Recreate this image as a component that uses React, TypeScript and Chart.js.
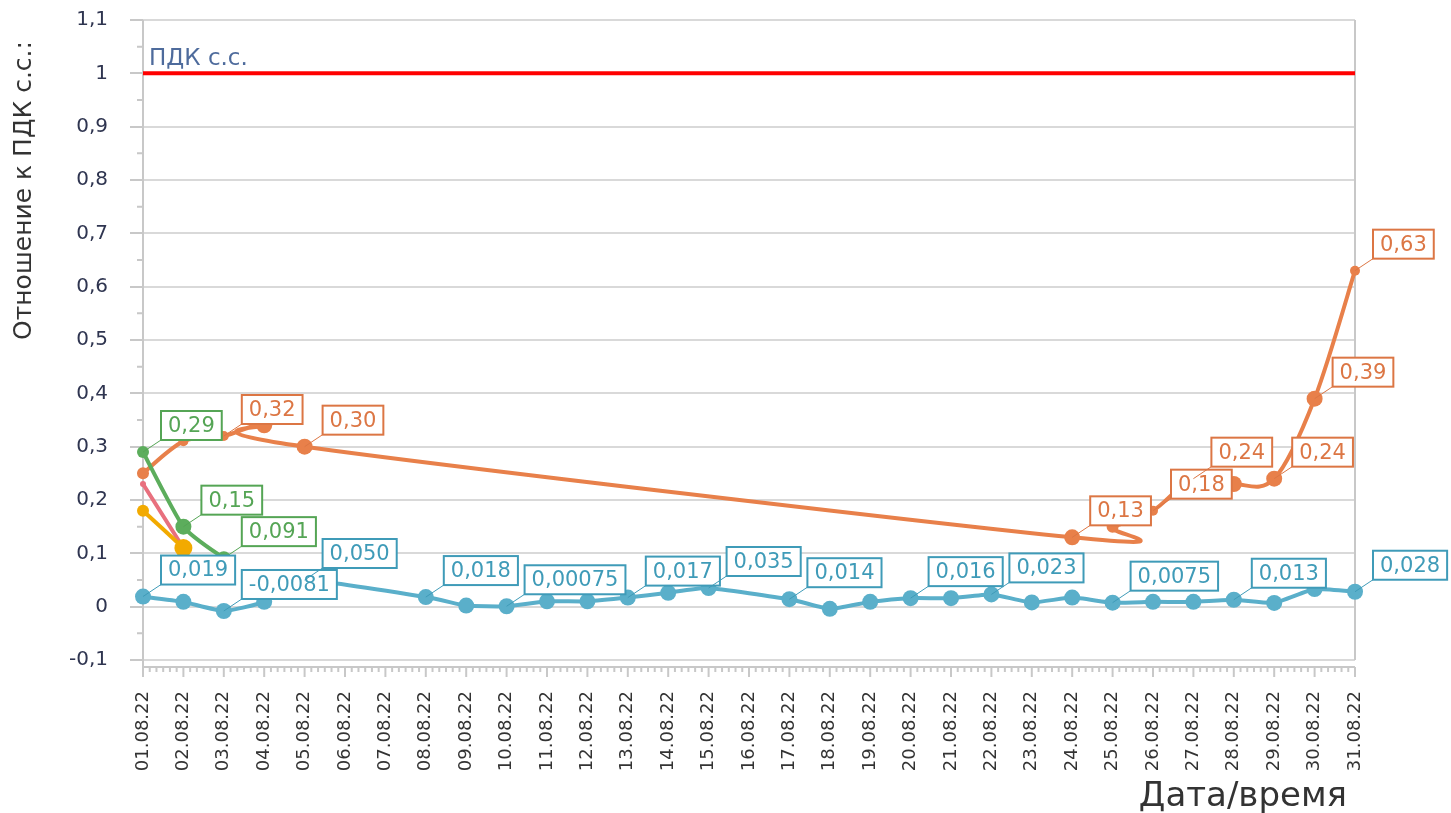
import React, { useEffect, useRef } from 'react';
import { Chart, registerables } from 'chart.js';

Chart.register(...registerables);

// ---------- data ----------
const xTickLabels = [
  '01.08.22', '02.08.22', '03.08.22', '04.08.22', '05.08.22', '06.08.22', '07.08.22', '08.08.22',
  '09.08.22', '10.08.22', '11.08.22', '12.08.22', '13.08.22', '14.08.22', '15.08.22', '16.08.22',
  '17.08.22', '18.08.22', '19.08.22', '20.08.22', '21.08.22', '22.08.22', '23.08.22', '24.08.22',
  '25.08.22', '26.08.22', '27.08.22', '28.08.22', '29.08.22', '30.08.22', '31.08.22',
];

const pdkLevel = 1;
const pdkDays = [1, 31];

const blueDays = [1, 2, 3, 4, 5, 8, 9, 10, 11, 12, 13, 14, 15, 17, 18, 19, 20, 21, 22, 23, 24, 25, 26, 27, 28, 29, 30, 31];
const blueValues = [0.019, 0.009, -0.0081, 0.009, 0.050, 0.018, 0.002, 0.00075, 0.010, 0.010, 0.017, 0.026, 0.035, 0.014, -0.004, 0.009, 0.016, 0.016, 0.023, 0.008, 0.017, 0.0075, 0.009, 0.009, 0.013, 0.007, 0.033, 0.028];
const blueLabelDays = [1, 3, 5, 8, 10, 13, 15, 17, 20, 22, 25, 28, 31];

const orangeDays = [1, 2, 3, 4, 5, 24, 25, 26, 27, 28, 29, 30, 31];
const orangeValues = [0.25, 0.31, 0.32, 0.34, 0.30, 0.13, 0.15, 0.18, 0.24, 0.23, 0.24, 0.39, 0.63];
const orangeLabelDays = [3, 5, 24, 26, 27, 29, 30, 31];

const greenDays = [1, 2, 3];
const greenValues = [0.29, 0.15, 0.091];
const greenLabelDays = [1, 2, 3];

const pinkDays = [1, 2];
const pinkValues = [0.23, 0.11];

const yellowDays = [1, 2];
const yellowValues = [0.18, 0.11];

// ---------- styles ----------
const orangeRadii = [6, 5, 5, 8, 8, 8, 6, 5, 6, 8, 8, 8, 5];
const greenRadii = [6, 8, 7];
const yellowRadii = [6, 9];
const pinkRadii = [3, 3];

const FONT = 'DejaVu Sans';

const toPoints = (days: number[], values: number[]) => days.map((d, i) => ({ x: d, y: values[i] }));

const fmtLabel = (v: number) => Number(v).toPrecision(2).replace('.', ',');
const fmtTick = (v: number) => {
  const r = Math.round(v);
  if (Math.abs(v - r) < 1e-9) return String(r);
  return v.toFixed(1).replace('.', ',');
};

// uniform Catmull-Rom control points (lets the curve overshoot like the original)
const crSplinePlugin = {
  id: 'crSpline',
  beforeDatasetDraw(chart: any, args: any) {
    const ds: any = chart.data.datasets[args.index];
    if (!ds || !ds.crK) return;
    const meta = args.meta;
    const line: any = meta.dataset;
    if (!line) return;
    line.updateControlPoints(chart.chartArea, 'x');
    const pts: any[] = meta.data;
    const k = ds.crK;
    for (let i = 0; i < pts.length; i++) {
      const p = pts[i];
      const prev = pts[i - 1] || p;
      const next = pts[i + 1] || p;
      const dx = (next.x - prev.x) * k;
      const dy = (next.y - prev.y) * k;
      p.cp1x = p.x - dx;
      p.cp1y = p.y - dy;
      p.cp2x = p.x + dx;
      p.cp2y = p.y + dy;
    }
    line._path = undefined;
  },
};

const axisDecorPlugin = {
  id: 'axisDecor',
  beforeDatasetsDraw(chart: any) {
    const { ctx, chartArea } = chart;
    const xs = chart.scales.x;
    const ys = chart.scales.y;
    const { left, right, top, bottom } = chartArea;
    ctx.save();
    ctx.strokeStyle = '#c8c8c8';
    ctx.lineWidth = 2;
    const axisY = bottom + 7;
    ctx.beginPath();
    ctx.moveTo(left, top);
    ctx.lineTo(left, axisY + 10);
    ctx.moveTo(right, top);
    ctx.lineTo(right, bottom);
    ctx.moveTo(left, axisY);
    ctx.lineTo(right, axisY);
    ctx.stroke();
    ctx.beginPath();
    for (let d = 1; d <= 31; d++) {
      const px = xs.getPixelForValue(d);
      ctx.moveTo(px, axisY);
      ctx.lineTo(px, axisY + 10);
      if (d < 31) {
        for (let m = 1; m < 6; m++) {
          const mx = xs.getPixelForValue(d + m / 6);
          ctx.moveTo(mx, axisY);
          ctx.lineTo(mx, axisY + 5);
        }
      }
    }
    ctx.stroke();
    ctx.beginPath();
    for (let i = 0; i < 12; i++) {
      const v = -0.1 + i * 0.1 + 0.05;
      const py = ys.getPixelForValue(v);
      ctx.moveTo(left - 6, py);
      ctx.lineTo(left, py);
    }
    ctx.stroke();
    ctx.restore();
  },
};

const pointLabelPlugin = {
  id: 'pointLabels',
  afterDatasetsDraw(chart: any) {
    const ctx = chart.ctx;
    ctx.save();
    chart.data.datasets.forEach((ds: any, di: number) => {
      if (!ds.labelDays) return;
      const meta = chart.getDatasetMeta(di);
      ds.data.forEach((d: any, i: number) => {
        if (!ds.labelDays.includes(d.x)) return;
        const el = meta.data[i];
        const text = fmtLabel(d.y);
        ctx.font = `21px "${FONT}"`;
        const w = ctx.measureText(text).width + 14;
        const h = 29;
        const bx = el.x + 18;
        const by = el.y - 12 - h;
        ctx.strokeStyle = ds.labelColor;
        ctx.lineWidth = 1;
        ctx.beginPath();
        ctx.moveTo(el.x, el.y);
        ctx.lineTo(bx, by + h);
        ctx.stroke();
        ctx.fillStyle = '#ffffff';
        ctx.fillRect(bx, by, w, h);
        ctx.lineWidth = 2;
        ctx.strokeRect(bx, by, w, h);
        ctx.fillStyle = ds.labelColor;
        ctx.textAlign = 'left';
        ctx.textBaseline = 'middle';
        ctx.fillText(text, bx + 7, by + h / 2 + 1);
      });
    });
    ctx.restore();
  },
};

const textsPlugin = {
  id: 'texts',
  afterDraw(chart: any) {
    const { ctx, chartArea } = chart;
    const ys = chart.scales.y;
    ctx.save();
    ctx.font = `23px "${FONT}"`;
    ctx.fillStyle = '#4e6b9c';
    ctx.textAlign = 'left';
    ctx.textBaseline = 'alphabetic';
    ctx.fillText('ПДК с.с.', chartArea.left + 6, ys.getPixelForValue(pdkLevel) - 8);
    ctx.save();
    ctx.translate(31, 340);
    ctx.rotate(-Math.PI / 2);
    ctx.font = `25px "${FONT}"`;
    ctx.fillStyle = '#333333';
    ctx.textAlign = 'left';
    ctx.fillText('Отношение к ПДК с.с.:', 0, 0);
    ctx.restore();
    ctx.font = `34px "${FONT}"`;
    ctx.fillStyle = '#333333';
    ctx.textAlign = 'right';
    ctx.fillText('Дата/время', 1347, 806);
    ctx.restore();
  },
};

export default function App() {
  const canvasRef = useRef<HTMLCanvasElement | null>(null);

  useEffect(() => {
    document.body.style.margin = '0';
    const canvas = canvasRef.current;
    if (!canvas) return;
    Chart.defaults.font.family = FONT;

    const base = {
      type: 'line' as const,
      borderWidth: 4,
      pointBorderWidth: 0,
      tension: 0.4,
      clip: false as any,
      crK: 1 / 6,
    };

    const chart = new Chart(canvas, {
      type: 'line',
      data: {
        datasets: [
          {
            ...base,
            label: 'yellow',
            data: toPoints(yellowDays, yellowValues),
            borderColor: '#f2aa00',
            backgroundColor: '#f2aa00',
            pointRadius: yellowRadii,
            pointHoverRadius: yellowRadii,
          } as any,
          {
            ...base,
            label: 'pink',
            data: toPoints(pinkDays, pinkValues),
            borderColor: '#e8707e',
            backgroundColor: '#e8707e',
            pointRadius: pinkRadii,
            pointHoverRadius: pinkRadii,
          } as any,
          {
            ...base,
            label: 'green',
            data: toPoints(greenDays, greenValues),
            borderColor: '#5cad5c',
            backgroundColor: '#5cad5c',
            pointRadius: greenRadii,
            pointHoverRadius: greenRadii,
            labelDays: greenLabelDays,
            labelColor: '#55a555',
            crK: 0.1,
          } as any,
          {
            ...base,
            label: 'orange',
            data: toPoints(orangeDays, orangeValues),
            borderColor: '#e8804a',
            backgroundColor: '#e8804a',
            pointRadius: orangeRadii,
            pointHoverRadius: orangeRadii,
            labelDays: orangeLabelDays,
            labelColor: '#dc7644',
          } as any,
          {
            ...base,
            label: 'blue',
            data: toPoints(blueDays, blueValues),
            borderColor: '#5aafca',
            backgroundColor: '#5aafca',
            pointRadius: 8,
            pointHoverRadius: 8,
            labelDays: blueLabelDays,
            labelColor: '#3f9bb8',
            crK: 0.08,
          } as any,
          {
            type: 'line',
            label: 'ПДК с.с.',
            data: pdkDays.map((d) => ({ x: d, y: pdkLevel })),
            borderColor: '#ff0000',
            borderWidth: 4,
            pointRadius: 0,
            tension: 0,
            clip: false,
          } as any,
        ],
      },
      options: {
        animation: false,
        responsive: false,
        events: [],
        layout: { padding: { left: 0, right: 96, top: 20, bottom: 0 } },
        plugins: {
          legend: { display: false },
          tooltip: { enabled: false },
          title: { display: false },
        },
        scales: {
          x: {
            type: 'linear',
            min: 1,
            max: 31,
            afterFit: (s: any) => {
              s.height = 153;
            },
            grid: { display: false },
            border: { display: false },
            ticks: {
              stepSize: 1,
              autoSkip: false,
              maxRotation: 90,
              minRotation: 90,
              padding: 23,
              color: '#333333',
              font: { family: FONT, size: 18 },
              callback: (v: any) => xTickLabels[Math.round(Number(v)) - 1] ?? '',
            },
          },
          y: {
            type: 'linear',
            min: -0.1,
            max: 1.1,
            afterFit: (s: any) => {
              s.width = 143;
              s.paddingTop = 0;
              s.paddingBottom = 0;
            },
            grid: {
              color: '#d9d9d9',
              lineWidth: 2,
              tickLength: 13,
              tickColor: '#c8c8c8',
              tickWidth: 2,
            },
            border: { display: false },
            ticks: {
              stepSize: 0.1,
              padding: 22,
              color: '#2f3550',
              font: { family: FONT, size: 20 },
              callback: (v: any) => fmtTick(Number(v)),
            },
          },
        },
      },
      plugins: [crSplinePlugin, axisDecorPlugin, pointLabelPlugin, textsPlugin],
    } as any);

    return () => {
      chart.destroy();
    };
  }, []);

  return (
    <div style={{ position: 'fixed', left: 0, top: 0, width: 1451, height: 813, background: '#ffffff', overflow: 'hidden' }}>
      <canvas ref={canvasRef} width={1451} height={813} style={{ display: 'block', width: 1451, height: 813 }} />
    </div>
  );
}
